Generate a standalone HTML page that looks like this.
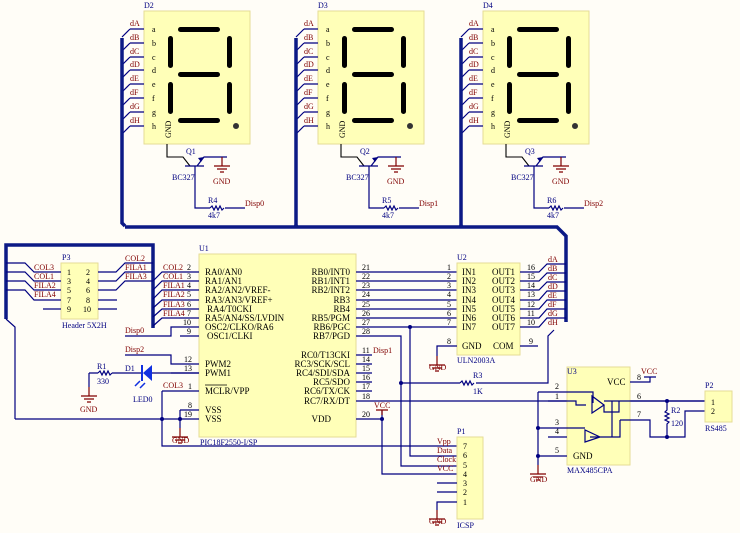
<!DOCTYPE html>
<html><head><meta charset="utf-8"><style>
html,body{margin:0;padding:0;background:#fffdf7;}
svg{display:block;}
text{font-family:"Liberation Serif",serif;font-size:9px;fill:#000;}
.n{fill:#800000;}
.b{fill:#000080;}
.s{font-size:8px;}
.w{stroke:#000080;stroke-width:1.2;fill:none;}
.bus{stroke:#0c1a86;stroke-width:3.5;fill:none;}
.g{stroke:#800000;stroke-width:1.2;fill:none;}
.box{fill:#ffffb8;stroke:#e6dc96;stroke-width:1;}
.seg{fill:#000;}
</style></head><body>
<svg width="740" height="533" viewBox="0 0 740 533" xmlns="http://www.w3.org/2000/svg">
<defs>
<g id="gnd"><path d="M0,0 v9 M-8,9 h16 M-5,12 h10 M-2,15 h4" class="g"/></g>
</defs>

<!-- Display D2 -->
<g transform="translate(144,11)">
<rect class="box" x="0" y="0" width="106" height="133"/>
<rect class="seg" x="34" y="16" width="42" height="5" rx="2.5"/>
<rect class="seg" x="24" y="25" width="5" height="32" rx="2.5"/>
<rect class="seg" x="83" y="25" width="5" height="32" rx="2.5"/>
<rect class="seg" x="34" y="61" width="42" height="5" rx="2.5"/>
<rect class="seg" x="24" y="71" width="5" height="32" rx="2.5"/>
<rect class="seg" x="83" y="71" width="5" height="32" rx="2.5"/>
<rect class="seg" x="34" y="107" width="42" height="5" rx="2.5"/>
<circle cx="92" cy="115" r="3" fill="#333"/>
<text x="8" y="21" class="s">a</text><text x="8" y="35" class="s">b</text><text x="8" y="49" class="s">c</text><text x="8" y="62" class="s">d</text><text x="8" y="76" class="s">e</text><text x="8" y="90" class="s">f</text><text x="8" y="104" class="s">g</text><text x="8" y="118" class="s">h</text>
<text transform="translate(27,127) rotate(-90)" class="s" fill="#555">GND</text>
<path class="w" d="M-14,18 h14 M-14,32 h14 M-14,46 h14 M-14,59 h14 M-14,73 h14 M-14,87 h14 M-14,101 h14 M-14,115 h14"/>
<path class="w" d="M-14,18 l-8,8 M-14,32 l-8,8 M-14,46 l-8,8 M-14,59 l-8,8 M-14,73 l-8,8 M-14,87 l-8,8 M-14,101 l-8,8 M-14,115 l-8,8"/>
<text x="-14" y="15" class="n s">dA</text><text x="-14" y="29" class="n s">dB</text><text x="-14" y="43" class="n s">dC</text><text x="-14" y="56" class="n s">dD</text><text x="-14" y="70" class="n s">dE</text><text x="-14" y="84" class="n s">dF</text><text x="-14" y="98" class="n s">dG</text><text x="-14" y="112" class="n s">dH</text>
<path class="bus" d="M-22,27 V212 l3,3"/>
<!-- transistor -->
<path d="M23,133 V146 H39 L46,155" stroke="#000" stroke-width="1.1" fill="none"/>
<path class="w" d="M41,155 H60 M53,155 L60,146 H83 M51,155 V197 H66 M81,197 H101"/>
<path d="M60,146 l-6,1 l3,4 z" fill="#000080"/>
<path class="w" d="M66,197 l2,-2 l2,4 l2,-4 l2,4 l2,-4 l2,4 l2,-2" />
<use href="#gnd" x="78" y="146"/>
<text x="42" y="143" class="b s">Q1</text>
<text x="28" y="169" class="b s">BC327</text>
<text x="69" y="173" class="n s">GND</text>
<text x="64" y="192" class="b s">R4</text>
<text x="64" y="207" class="b s">4k7</text>
<text x="101" y="195" class="n s">Disp0</text>
<text x="0" y="-3" class="b s">D2</text>
</g>

<!-- Display D3 -->
<g transform="translate(318,11)">
<rect class="box" x="0" y="0" width="106" height="133"/>
<rect class="seg" x="34" y="16" width="42" height="5" rx="2.5"/>
<rect class="seg" x="24" y="25" width="5" height="32" rx="2.5"/>
<rect class="seg" x="83" y="25" width="5" height="32" rx="2.5"/>
<rect class="seg" x="34" y="61" width="42" height="5" rx="2.5"/>
<rect class="seg" x="24" y="71" width="5" height="32" rx="2.5"/>
<rect class="seg" x="83" y="71" width="5" height="32" rx="2.5"/>
<rect class="seg" x="34" y="107" width="42" height="5" rx="2.5"/>
<circle cx="92" cy="115" r="3" fill="#333"/>
<text x="8" y="21" class="s">a</text><text x="8" y="35" class="s">b</text><text x="8" y="49" class="s">c</text><text x="8" y="62" class="s">d</text><text x="8" y="76" class="s">e</text><text x="8" y="90" class="s">f</text><text x="8" y="104" class="s">g</text><text x="8" y="118" class="s">h</text>
<text transform="translate(27,127) rotate(-90)" class="s" fill="#555">GND</text>
<path class="w" d="M-14,18 h14 M-14,32 h14 M-14,46 h14 M-14,59 h14 M-14,73 h14 M-14,87 h14 M-14,101 h14 M-14,115 h14"/>
<path class="w" d="M-14,18 l-8,8 M-14,32 l-8,8 M-14,46 l-8,8 M-14,59 l-8,8 M-14,73 l-8,8 M-14,87 l-8,8 M-14,101 l-8,8 M-14,115 l-8,8"/>
<text x="-14" y="15" class="n s">dA</text><text x="-14" y="29" class="n s">dB</text><text x="-14" y="43" class="n s">dC</text><text x="-14" y="56" class="n s">dD</text><text x="-14" y="70" class="n s">dE</text><text x="-14" y="84" class="n s">dF</text><text x="-14" y="98" class="n s">dG</text><text x="-14" y="112" class="n s">dH</text>
<path class="bus" d="M-22,27 V215"/>
<circle cx="-22" cy="215" r="2" fill="#0c1a86"/>
<path d="M23,133 V146 H39 L46,155" stroke="#000" stroke-width="1.1" fill="none"/>
<path class="w" d="M41,155 H60 M53,155 L60,146 H83 M51,155 V197 H66 M81,197 H101"/>
<path d="M60,146 l-6,1 l3,4 z" fill="#000080"/>
<path class="w" d="M66,197 l2,-2 l2,4 l2,-4 l2,4 l2,-4 l2,4 l2,-2" />
<use href="#gnd" x="78" y="146"/>
<text x="42" y="143" class="b s">Q2</text>
<text x="28" y="169" class="b s">BC327</text>
<text x="69" y="173" class="n s">GND</text>
<text x="64" y="192" class="b s">R5</text>
<text x="64" y="207" class="b s">4k7</text>
<text x="101" y="195" class="n s">Disp1</text>
<text x="0" y="-3" class="b s">D3</text>
</g>

<!-- Display D4 -->
<g transform="translate(483,11)">
<rect class="box" x="0" y="0" width="106" height="133"/>
<rect class="seg" x="34" y="16" width="42" height="5" rx="2.5"/>
<rect class="seg" x="24" y="25" width="5" height="32" rx="2.5"/>
<rect class="seg" x="83" y="25" width="5" height="32" rx="2.5"/>
<rect class="seg" x="34" y="61" width="42" height="5" rx="2.5"/>
<rect class="seg" x="24" y="71" width="5" height="32" rx="2.5"/>
<rect class="seg" x="83" y="71" width="5" height="32" rx="2.5"/>
<rect class="seg" x="34" y="107" width="42" height="5" rx="2.5"/>
<circle cx="92" cy="115" r="3" fill="#333"/>
<text x="8" y="21" class="s">a</text><text x="8" y="35" class="s">b</text><text x="8" y="49" class="s">c</text><text x="8" y="62" class="s">d</text><text x="8" y="76" class="s">e</text><text x="8" y="90" class="s">f</text><text x="8" y="104" class="s">g</text><text x="8" y="118" class="s">h</text>
<text transform="translate(27,127) rotate(-90)" class="s" fill="#555">GND</text>
<path class="w" d="M-14,18 h14 M-14,32 h14 M-14,46 h14 M-14,59 h14 M-14,73 h14 M-14,87 h14 M-14,101 h14 M-14,115 h14"/>
<path class="w" d="M-14,18 l-8,8 M-14,32 l-8,8 M-14,46 l-8,8 M-14,59 l-8,8 M-14,73 l-8,8 M-14,87 l-8,8 M-14,101 l-8,8 M-14,115 l-8,8"/>
<text x="-14" y="15" class="n s">dA</text><text x="-14" y="29" class="n s">dB</text><text x="-14" y="43" class="n s">dC</text><text x="-14" y="56" class="n s">dD</text><text x="-14" y="70" class="n s">dE</text><text x="-14" y="84" class="n s">dF</text><text x="-14" y="98" class="n s">dG</text><text x="-14" y="112" class="n s">dH</text>
<path class="bus" d="M-22,27 V215"/>
<circle cx="-22" cy="215" r="2" fill="#0c1a86"/>
<path d="M23,133 V146 H39 L46,155" stroke="#000" stroke-width="1.1" fill="none"/>
<path class="w" d="M41,155 H60 M53,155 L60,146 H83 M51,155 V197 H66 M81,197 H101"/>
<path d="M60,146 l-6,1 l3,4 z" fill="#000080"/>
<path class="w" d="M66,197 l2,-2 l2,4 l2,-4 l2,4 l2,-4 l2,4 l2,-2" />
<use href="#gnd" x="78" y="146"/>
<text x="42" y="143" class="b s">Q3</text>
<text x="28" y="169" class="b s">BC327</text>
<text x="69" y="173" class="n s">GND</text>
<text x="64" y="192" class="b s">R6</text>
<text x="64" y="207" class="b s">4k7</text>
<text x="101" y="195" class="n s">Disp2</text>
<text x="0" y="-3" class="b s">D4</text>
</g>

<!-- main display bus -->
<path class="bus" d="M125,227 H557 L566,236 V322"/>

<!-- left bus rectangle -->
<path class="bus" d="M6,319 V245 H153 V328"/>
<path class="w" d="M6,319 L15,327 V419"/>

<!-- P3 header -->
<rect class="box" x="61" y="263" width="37" height="56"/>
<text x="62" y="260" class="b s">P3</text>
<text x="62" y="328" class="b s">Header 5X2H</text>
<text x="67" y="275" class="s">1</text><text x="67" y="284" class="s">3</text><text x="67" y="293" class="s">5</text><text x="67" y="303" class="s">7</text><text x="67" y="312" class="s">9</text>
<text x="86" y="275" class="s">2</text><text x="86" y="284" class="s">4</text><text x="86" y="293" class="s">6</text><text x="86" y="303" class="s">8</text><text x="83" y="312" class="s">10</text>
<path class="w" d="M6,263 H25 L34,272 H61 M6,272 H25 L34,281 H61 M6,281 H25 L34,290 H61 M6,290 H25 L34,300 H61 M43,309 H61"/>
<text x="34" y="270" class="n s">COL3</text><text x="34" y="279" class="n s">COL1</text><text x="34" y="288" class="n s">FILA2</text><text x="34" y="297" class="n s">FILA4</text>
<path class="w" d="M98,272 H116 L125,263 H153 M98,281 H116 L125,272 H153 M98,290 H116 L125,281 H153 M98,300 H117 M98,309 H117"/>
<text x="125" y="261" class="n s">COL2</text><text x="125" y="270" class="n s">FILA1</text><text x="125" y="279" class="n s">FILA3</text>

<!-- U1 -->
<rect class="box" x="199" y="254" width="157" height="183"/>
<text x="199" y="251" class="b s">U1</text>
<text x="200" y="445" class="b s">PIC18F2550-I/SP</text>
<path class="w" d="M153,281 L162,272 H199 M153,290 L162,281 H199 M153,299 L162,290 H199 M153,308 L162,300 H199 M153,317 L162,309 H199 M153,326 L162,318 H199"/>
<text x="163" y="270" class="n s">COL2</text><text x="163" y="279" class="n s">COL1</text><text x="163" y="288" class="n s">FILA1</text><text x="163" y="297" class="n s">FILA2</text><text x="163" y="307" class="n s">FILA3</text><text x="163" y="316" class="n s">FILA4</text>
<text x="187" y="270" class="s">2</text><text x="187" y="279" class="s">3</text><text x="187" y="288" class="s">4</text><text x="187" y="297" class="s">5</text><text x="187" y="307" class="s">6</text><text x="187" y="316" class="s">7</text><text x="183" y="325" class="s">10</text><text x="187" y="334" class="s">9</text>
<text x="205" y="275">RA0/AN0</text><text x="205" y="284">RA1/AN1</text><text x="205" y="293">RA2/AN2/VREF-</text><text x="205" y="303">RA3/AN3/VREF+</text><text x="207" y="312">RA4/T0CKI</text><text x="205" y="321">RA5/AN4/SS/LVDIN</text><text x="205" y="330">OSC2/CLKO/RA6</text><text x="207" y="339">OSC1/CLKI</text>
<path class="w" d="M125,336 H171 V327 H199 M180,336 H199"/>
<text x="125" y="333" class="n s">Disp0</text>
<path class="w" d="M125,355 H171 V364 H199 M171,373 H199"/>
<text x="125" y="352" class="n s">Disp2</text>
<text x="184" y="362" class="s">12</text><text x="184" y="371" class="s">13</text>
<text x="205" y="367">PWM2</text><text x="205" y="376">PWM1</text>
<!-- R1 and LED -->
<path class="w" d="M89,373 V387 M89,373 H98 M112,373 H143 M152,373 H199"/>
<path class="w" d="M98,373 l2,-2 l2,4 l2,-4 l2,4 l2,-4 l2,4 l2,-2"/>
<path d="M152,365 V381 L143,373 Z" fill="#1030e0"/>
<path d="M142,365 V381" stroke="#1030e0" stroke-width="2"/>
<path d="M140,381 l-5,5 M145,383 l-5,5" stroke="#1030e0" stroke-width="1.5"/>
<use href="#gnd" x="89" y="387"/>
<text x="97" y="369" class="b s">R1</text><text x="97" y="384" class="b s">330</text>
<text x="125" y="371" class="b s">D1</text><text x="133" y="402" class="b s">LED0</text>
<text x="80" y="412" class="n s">GND</text>
<!-- MCLR / VSS -->
<path class="w" d="M162,391 H199 M162,391 V446 H457 M15,419 H199 M180,410 H199 M180,410 V428"/>
<circle cx="162" cy="419" r="2" fill="#000080"/><circle cx="180" cy="419" r="2" fill="#000080"/>
<use href="#gnd" x="180" y="428"/>
<text x="172" y="443" class="n s">GND</text>
<text x="163" y="388" class="n s">COL3</text>
<text x="188" y="389" class="s">1</text><text x="188" y="408" class="s">8</text><text x="184" y="417" class="s">19</text>
<text x="205" y="394">MCLR/VPP</text>
<path d="M205,385 h22" stroke="#000" stroke-width="0.8"/>
<text x="205" y="413">VSS</text><text x="205" y="422">VSS</text>
<text x="331" y="422" text-anchor="end">VDD</text>
<!-- right pins U1 -->
<text x="350" y="275" text-anchor="end">RB0/INT0</text><text x="350" y="284" text-anchor="end">RB1/INT1</text><text x="350" y="293" text-anchor="end">RB2/INT2</text><text x="350" y="303" text-anchor="end">RB3</text><text x="350" y="312" text-anchor="end">RB4</text><text x="350" y="321" text-anchor="end">RB5/PGM</text><text x="350" y="330" text-anchor="end">RB6/PGC</text><text x="350" y="339" text-anchor="end">RB7/PGD</text>
<text x="350" y="358" text-anchor="end">RC0/T13CKI</text><text x="350" y="367" text-anchor="end">RC3/SCK/SCL</text><text x="350" y="376" text-anchor="end">RC4/SDI/SDA</text><text x="350" y="385" text-anchor="end">RC5/SDO</text><text x="350" y="394" text-anchor="end">RC6/TX/CK</text><text x="350" y="404" text-anchor="end">RC7/RX/DT</text>
<text x="362" y="270" class="s">21</text><text x="362" y="279" class="s">22</text><text x="362" y="288" class="s">23</text><text x="362" y="297" class="s">24</text><text x="362" y="307" class="s">25</text><text x="362" y="316" class="s">26</text><text x="362" y="325" class="s">27</text><text x="362" y="334" class="s">28</text>
<text x="362" y="353" class="s">11</text><text x="362" y="362" class="s">14</text><text x="362" y="371" class="s">15</text><text x="362" y="380" class="s">16</text><text x="362" y="389" class="s">17</text><text x="362" y="399" class="s">18</text><text x="362" y="417" class="s">20</text>
<text x="373" y="353" class="n s">Disp1</text>
<path class="w" d="M356,272 H457 M356,281 H457 M356,290 H457 M356,300 H457 M356,309 H457 M356,318 H457 M356,327 H457 M356,336 H401 V466 H457 M410,327 V456 H457"/>
<circle cx="410" cy="327" r="2" fill="#000080"/>
<path class="w" d="M356,355 H372 M356,364 H372 M356,373 H372 M356,382 H372 M356,391 H372 M356,401 H705 M356,419 H382"/>
<path class="w" d="M382,410 V474 H457 M401,383 H460 M476,383 H548 V336 L554,330"/>
<circle cx="382" cy="419" r="2" fill="#000080"/><circle cx="401" cy="383" r="2" fill="#000080"/>
<path class="g" d="M376,410 H388 M382,410 V415"/>
<text x="374" y="408" class="n s">VCC</text>
<path class="w" d="M460,383 l2,-2 l2,4 l2,-4 l2,4 l2,-4 l2,4 l2,-2"/>
<text x="473" y="378" class="b s">R3</text><text x="473" y="394" class="b s">1K</text>

<!-- U2 -->
<rect class="box" x="457" y="263" width="63" height="92"/>
<text x="457" y="260" class="b s">U2</text>
<text x="457" y="363" class="b s">ULN2003A</text>
<text x="447" y="270" class="s">1</text><text x="447" y="279" class="s">2</text><text x="447" y="288" class="s">3</text><text x="447" y="297" class="s">4</text><text x="447" y="307" class="s">5</text><text x="447" y="316" class="s">6</text><text x="447" y="325" class="s">7</text><text x="447" y="344" class="s">8</text>
<text x="462" y="275">IN1</text><text x="462" y="284">IN2</text><text x="462" y="293">IN3</text><text x="462" y="303">IN4</text><text x="462" y="312">IN5</text><text x="462" y="321">IN6</text><text x="462" y="330">IN7</text>
<text x="462" y="349">GND</text><text x="493" y="349">COM</text>
<text x="492" y="275">OUT1</text><text x="492" y="284">OUT2</text><text x="492" y="293">OUT3</text><text x="492" y="303">OUT4</text><text x="492" y="312">OUT5</text><text x="492" y="321">OUT6</text><text x="492" y="330">OUT7</text>
<text x="527" y="270" class="s">16</text><text x="527" y="279" class="s">15</text><text x="527" y="288" class="s">14</text><text x="527" y="297" class="s">13</text><text x="527" y="307" class="s">12</text><text x="527" y="316" class="s">11</text><text x="527" y="325" class="s">10</text><text x="529" y="344" class="s">9</text>
<path class="w" d="M520,272 H539 L547,264 H566 M520,281 H539 L547,273 H566 M520,290 H539 L547,282 H566 M520,300 H539 L547,291 H566 M520,309 H539 L547,300 H566 M520,318 H539 L547,309 H566 M520,327 H539 L547,318 H566 M520,346 H538"/>
<text x="548" y="262" class="n s">dA</text><text x="548" y="271" class="n s">dB</text><text x="548" y="280" class="n s">dC</text><text x="548" y="289" class="n s">dD</text><text x="548" y="298" class="n s">dE</text><text x="548" y="307" class="n s">dF</text><text x="548" y="316" class="n s">dG</text><text x="548" y="325" class="n s">dH</text>
<path class="w" d="M457,346 H437 V356"/>
<use href="#gnd" x="437" y="356"/>
<text x="429" y="370" class="n s">GND</text>

<!-- P1 ICSP -->
<rect class="box" x="457" y="437" width="26" height="82"/>
<text x="457" y="434" class="b s">P1</text>
<text x="457" y="528" class="b s">ICSP</text>
<text x="463" y="449" class="s">7</text><text x="463" y="458" class="s">6</text><text x="463" y="468" class="s">5</text><text x="463" y="477" class="s">4</text><text x="463" y="486" class="s">3</text><text x="463" y="495" class="s">2</text><text x="463" y="505" class="s">1</text>
<text x="437" y="444" class="n s">Vpp</text><text x="437" y="453" class="n s">Data</text><text x="437" y="462" class="n s">Clock</text><text x="437" y="471" class="n s">VCC</text>
<path class="w" d="M437,483 H457 M437,492 H457 M457,502 H437 V510"/>
<use href="#gnd" x="437" y="510"/>
<text x="429" y="524" class="n s">GND</text>

<!-- U3 -->
<rect class="box" x="567" y="367" width="63" height="98"/>
<text x="567" y="374" class="b s">U3</text>
<text x="567" y="473" class="b s">MAX485CPA</text>
<text x="607" y="385">VCC</text><text x="573" y="459">GND</text>
<text x="555" y="389" class="s">2</text><text x="555" y="399" class="s">1</text><text x="555" y="425" class="s">3</text><text x="555" y="434" class="s">4</text><text x="555" y="453" class="s">5</text>
<text x="637" y="399" class="s">6</text><text x="637" y="417" class="s">7</text><text x="637" y="380" class="s">8</text>
<path class="w" d="M538,392 H567 M548,401 H567 M538,392 V456 M538,428 H567 M548,437 H567 M538,456 H567 M538,456 V465"/>
<circle cx="538" cy="428" r="2" fill="#000080"/><circle cx="538" cy="456" r="2" fill="#000080"/>
<use href="#gnd" x="538" y="465"/>
<text x="530" y="482" class="n s">GND</text>
<!-- internal drivers -->
<path class="w" d="M567,392 H593 V403 M567,401 H576 V405 H586 M592,396 L604,405 L592,413 Z M604,401 H630 M567,428 H585 M585,430 V442 L600,437 Z M600,437 H612 V401 M619,401 V412 H604 V405 M620,420 H630 M620,420 V437 H590"/>
<path class="w" d="M630,382 H650 V377 M644,377 H656 M630,401 H705 M630,420 H650 V437 H685 V411 H705"/>
<circle cx="667" cy="401" r="2" fill="#000080"/><circle cx="667" cy="437" r="2" fill="#000080"/>
<path class="w" d="M667,401 V410 l-2,2 l4,2 l-4,2 l4,2 l-4,2 l4,2 l-2,2 V437"/>
<text x="641" y="374" class="n s">VCC</text>
<text x="671" y="413" class="b s">R2</text><text x="671" y="426" class="b s">120</text>
<!-- P2 -->
<rect class="box" x="705" y="391" width="27" height="31"/>
<text x="705" y="388" class="b s">P2</text>
<text x="705" y="431" class="b s">RS485</text>
<text x="711" y="405" class="s">1</text><text x="711" y="414" class="s">2</text>
</svg>
</body></html>
